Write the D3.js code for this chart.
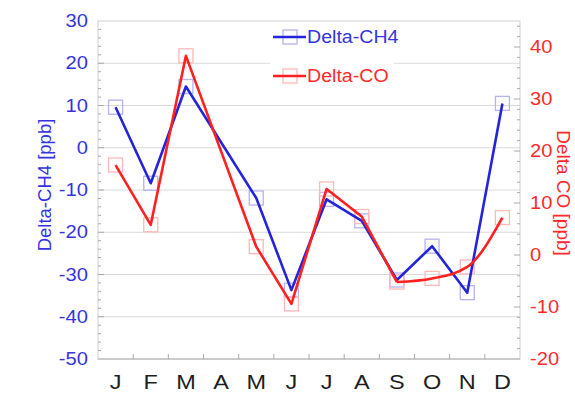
<!DOCTYPE html>
<html><head><meta charset="utf-8">
<script src="https://cdn.jsdelivr.net/npm/d3@7"></script>
<style>body{margin:0;background:#fff}svg{display:block}text{font-family:"Liberation Sans",Arial,sans-serif}</style>
</head><body>
<svg id="c" width="575" height="397"></svg>
<script>
const months = ["J","F","M","A","M","J","J","A","S","O","N","D"];
const ch4 = [9.6, -8.4, 14.5, null, -11.9, -33.7, -12.2, -17.3, -31.3, -23.3, -34.3, 10.5];
const co  = [17.3, 5.8, 38.3, null, 1.6, -9.4, 12.7, 7.4, -5.2, -4.5, -2.3, 7.2];
const leftTicks = [30, 20, 10, 0, -10, -20, -30, -40, -50];
const rightTicks = [40, 30, 20, 10, 0, -10, -20];
const seriesNames = ["Delta-CH4", "Delta-CO"];
const axisTitles = ["Delta-CH4 [ppb]", "Delta CO [ppb]"];

const BLUE = "#2424d8", RED = "#ff2020";
const BLUE_TXT = "#3434e0", RED_TXT = "#ff2a2a";
const BLUE_MK = "#b4b4f0", RED_MK = "#ffb8b8";
const SX = 1.12;

const svg = d3.select("#c");
const L = 98, R = 520, T = 21, B = 359;
const x = d3.scaleLinear().domain([0.5, 12.5]).range([L, R]);
const yL = d3.scaleLinear().domain([-50, 30]).range([B, T]);
const yR = d3.scaleLinear().domain([-20, 45]).range([B, T]);

// gridlines
svg.append("g").selectAll("line").data(leftTicks.filter(v => v > -50 && v < 30)).join("line")
  .attr("x1", L).attr("x2", R).attr("y1", d => yL(d)).attr("y2", d => yL(d))
  .attr("stroke", "#dadada").attr("stroke-width", 1);

// frame
svg.append("rect").attr("x", L).attr("y", T).attr("width", R - L).attr("height", B - T)
  .attr("fill", "none").attr("stroke", "#cfcfcf").attr("stroke-width", 1);
svg.append("line").attr("x1", L).attr("x2", R).attr("y1", B).attr("y2", B).attr("stroke", "#b0b0b0");

// axis ticks
const lMinor = d3.range(-48, 30, 2);
svg.append("g").selectAll("line").data(lMinor).join("line")
  .attr("x1", L).attr("x2", d => L + (d % 10 === 0 ? 6 : 3))
  .attr("y1", d => yL(d)).attr("y2", d => yL(d)).attr("stroke", "#aaa");
const rMinor = d3.range(-18, 46, 2);
svg.append("g").selectAll("line").data(rMinor).join("line")
  .attr("x1", R).attr("x2", d => R - (d % 10 === 0 ? 6 : 3))
  .attr("y1", d => yR(d)).attr("y2", d => yR(d)).attr("stroke", "#aaa");
svg.append("g").selectAll("line").data(d3.range(1.5, 12, 1)).join("line")
  .attr("x1", d => x(d)).attr("x2", d => x(d)).attr("y1", B).attr("y2", B - 5).attr("stroke", "#aaa");

// tick labels
svg.append("g").selectAll("text").data(leftTicks).join("text")
  .attr("transform", d => `translate(88,${yL(d)}) scale(${SX},1)`)
  .attr("text-anchor", "end").attr("dominant-baseline", "central")
  .attr("font-size", 18).attr("fill", BLUE_TXT).text(d => d);
svg.append("g").selectAll("text").data(rightTicks).join("text")
  .attr("transform", d => `translate(530,${yR(d)}) scale(${SX},1)`)
  .attr("text-anchor", "start").attr("dominant-baseline", "central")
  .attr("font-size", 18).attr("fill", RED_TXT).text(d => d);
svg.append("g").selectAll("text").data(months).join("text")
  .attr("transform", (d, i) => `translate(${x(i + 1)},382) scale(${SX},1)`)
  .attr("text-anchor", "middle").attr("dominant-baseline", "central")
  .attr("font-size", 21).attr("fill", "#1e1e1e").text(d => d);

// axis titles
svg.append("text").attr("transform", "translate(44,185) rotate(-90)")
  .attr("text-anchor", "middle").attr("dominant-baseline", "central")
  .attr("font-size", 18.5).attr("fill", BLUE_TXT).text(axisTitles[0]);
svg.append("text").attr("transform", "translate(563,193) rotate(90)")
  .attr("text-anchor", "middle").attr("dominant-baseline", "central")
  .attr("font-size", 19).attr("fill", RED_TXT).text(axisTitles[1]);

// legend box
svg.append("rect").attr("x", 270).attr("y", 24).attr("width", 124).attr("height", 68).attr("fill", "#fff");

const S = 14;
function markers(data, y, color) {
  svg.append("g").selectAll("rect").data(data.map((v, i) => [i + 1, v]).filter(d => d[1] !== null)).join("rect")
    .attr("x", d => x(d[0]) - S / 2).attr("y", d => y(d[1]) - S / 2)
    .attr("width", S).attr("height", S).attr("fill", "none")
    .attr("stroke", color).attr("stroke-width", 1.3);
}
markers(ch4, yL, BLUE_MK);
markers(co, yR, RED_MK);

const ptsCh4 = ch4.map((v, i) => [i + 1, v]).filter(d => d[1] !== null);
const ptsCo = co.map((v, i) => [i + 1, v]).filter(d => d[1] !== null);
svg.append("path").datum(ptsCh4)
  .attr("d", d3.line().x(d => x(d[0])).y(d => yL(d[1])))
  .attr("fill", "none").attr("stroke", BLUE).attr("stroke-width", 2.6).attr("stroke-linejoin", "round");
svg.append("path").datum(ptsCo.filter(d => d[0] <= 9))
  .attr("d", d3.line().x(d => x(d[0])).y(d => yR(d[1])))
  .attr("fill", "none").attr("stroke", RED).attr("stroke-width", 2.6).attr("stroke-linejoin", "round");
svg.append("path").datum(ptsCo.filter(d => d[0] >= 9))
  .attr("d", d3.line().curve(d3.curveMonotoneX).x(d => x(d[0])).y(d => yR(d[1])))
  .attr("fill", "none").attr("stroke", RED).attr("stroke-width", 2.6);

// legend entries
const lg = [[seriesNames[0], 37, BLUE, BLUE_MK, BLUE_TXT], [seriesNames[1], 76, RED, RED_MK, RED_TXT]];
lg.forEach(([name, yy, c, mk, tc]) => {
  svg.append("rect").attr("x", 290 - S / 2).attr("y", yy - S / 2).attr("width", S).attr("height", S)
    .attr("fill", "none").attr("stroke", mk).attr("stroke-width", 1.3);
  svg.append("line").attr("x1", 273).attr("x2", 306).attr("y1", yy).attr("y2", yy)
    .attr("stroke", c).attr("stroke-width", 2.6);
  svg.append("text").attr("transform", `translate(307,${yy}) scale(${SX},1)`)
    .attr("dominant-baseline", "central").attr("font-size", 17.5).attr("fill", tc).text(name);
});
</script>
</body></html>
